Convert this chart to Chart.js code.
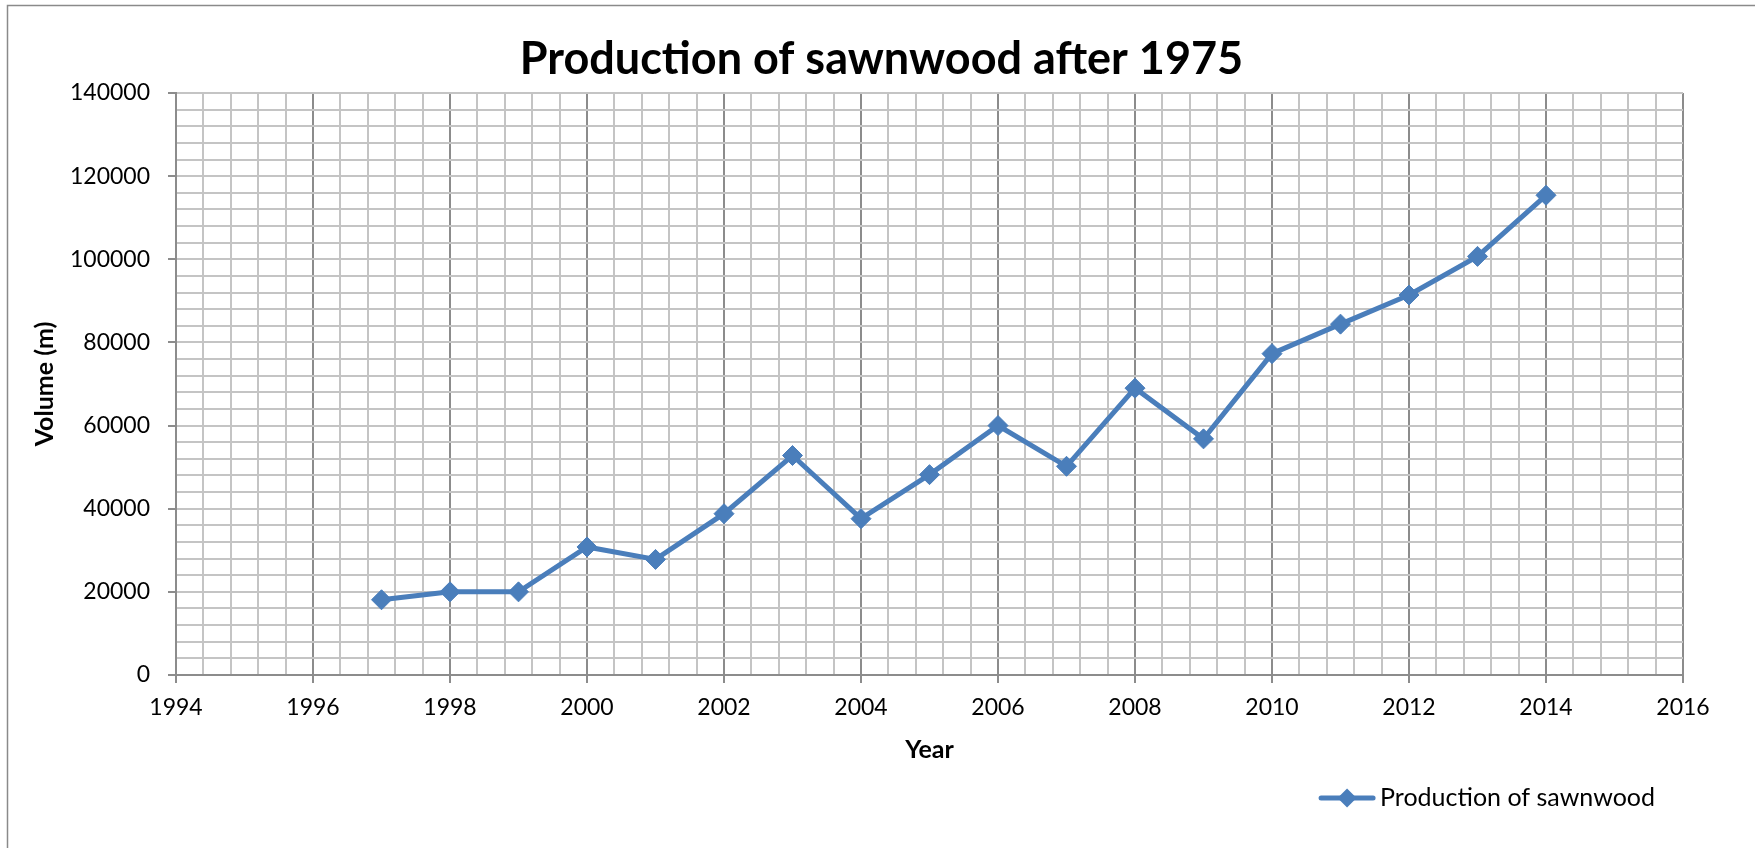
<!DOCTYPE html>
<html>
<head>
<meta charset="utf-8">
<title>Production of sawnwood after 1975</title>
<script src="https://cdn.jsdelivr.net/npm/chart.js@4.4.1/dist/chart.umd.min.js"></script>
<style>
    html, body { margin: 0; padding: 0; background: #ffffff; }
    #wrap { width: 1755px; height: 848px; }
</style>
</head>
<body>
<div id="wrap"><canvas id="chartCanvas" width="1755" height="848"></canvas></div>
<script>
// Sawnwood production per year
const years = [1997, 1998, 1999, 2000, 2001, 2002, 2003, 2004, 2005, 2006, 2007, 2008, 2009, 2010, 2011, 2012, 2013, 2014];
const volumes = [18100, 20000, 20000, 30800, 27800, 38800, 52800, 37600, 48200, 60000, 50200, 69000, 56800, 77300, 84400, 91400, 100700, 115400];

// Major ticks (labelled); each gap is split into minor grid steps
const xTickValues = [1994, 1996, 1998, 2000, 2002, 2004, 2006, 2008, 2010, 2012, 2014, 2016];
const yTickValues = [0, 20000, 40000, 60000, 80000, 100000, 120000, 140000];
const minorSteps = 5;

const seriesLabel = 'Production of sawnwood';
const chartTitle = 'Production of sawnwood after 1975';
const xTitle = 'Year';
const yTitle = 'Volume (m)';

const lineColor = '#4A7EBB';
const fontFamily = 'Lato, "Open Sans", sans-serif';

function withMinorTicks(major, n) {
    const out = [];
    for (let i = 0; i < major.length - 1; i++) {
        const step = (major[i + 1] - major[i]) / n;
        for (let j = 0; j < n; j++) out.push(major[i] + j * step);
    }
    out.push(major[major.length - 1]);
    return out;
}

function isMajor(list, v) {
    return list.some(m => Math.abs(m - v) < 1e-6);
}

// thin frame around the whole chart
const frame = {
    id: 'frame',
    beforeDraw(chart) {
        const ctx = chart.ctx;
        ctx.save();
        ctx.strokeStyle = '#8a8a8a';
        ctx.lineWidth = 1.5;
        ctx.strokeRect(7.5, 5.5, chart.width + 20, chart.height + 20);
        ctx.restore();
    }
};

// legend: line sample with a diamond, then the series name
const lineLegend = {
    id: 'lineLegend',
    afterDraw(chart) {
        const ctx = chart.ctx;
        const ds = chart.data.datasets[0];
        const area = chart.chartArea;
        ctx.save();
        ctx.font = '25px ' + fontFamily;
        const textW = ctx.measureText(ds.label).width;
        const textRight = area.right - 28;
        const textLeft = textRight - textW;
        const y = 798;
        const x1 = textLeft - 59, x2 = textLeft - 7;
        ctx.strokeStyle = ds.borderColor;
        ctx.lineWidth = ds.borderWidth;
        ctx.lineCap = 'round';
        ctx.beginPath();
        ctx.moveTo(x1, y);
        ctx.lineTo(x2, y);
        ctx.stroke();
        const cx = (x1 + x2) / 2, r = 9.5;
        ctx.fillStyle = ds.pointBackgroundColor;
        ctx.beginPath();
        ctx.moveTo(cx, y - r);
        ctx.lineTo(cx + r, y);
        ctx.lineTo(cx, y + r);
        ctx.lineTo(cx - r, y);
        ctx.closePath();
        ctx.fill();
        ctx.fillStyle = '#000000';
        ctx.textBaseline = 'middle';
        ctx.textAlign = 'left';
        ctx.fillText(ds.label, textLeft, y);
        ctx.restore();
    }
};

const ctx = document.getElementById('chartCanvas').getContext('2d');
new Chart(ctx, {
    type: 'line',
    data: {
        datasets: [{
            label: seriesLabel,
            data: years.map((yr, i) => ({ x: yr, y: volumes[i] })),
            borderColor: lineColor,
            backgroundColor: lineColor,
            borderWidth: 5,
            pointStyle: 'rectRot',
            pointRadius: 10,
            pointHoverRadius: 10,
            pointBackgroundColor: lineColor,
            pointBorderColor: lineColor,
            pointBorderWidth: 1,
            tension: 0,
            fill: false
        }]
    },
    options: {
        responsive: false,
        devicePixelRatio: 1,
        animation: false,
        layout: { padding: { left: 8, right: 0, top: 4, bottom: 0 } },
        plugins: {
            legend: { display: false },
            tooltip: { enabled: false },
            title: {
                display: true,
                text: chartTitle,
                color: '#000000',
                font: { family: fontFamily, size: 45, weight: 'bold', lineHeight: 1.2 },
                padding: { top: 28, bottom: 7 }
            }
        },
        scales: {
            x: {
                type: 'linear',
                min: xTickValues[0],
                max: xTickValues[xTickValues.length - 1],
                afterBuildTicks: axis => {
                    axis.ticks = withMinorTicks(xTickValues, minorSteps).map(v => ({ value: v }));
                },
                afterFit: axis => { axis.height = 173; },
                ticks: {
                    autoSkip: false,
                    maxRotation: 0,
                    minRotation: 0,
                    padding: 11,
                    color: '#000000',
                    font: { family: fontFamily, size: 23 },
                    callback: v => isMajor(xTickValues, v) ? String(Math.round(v)) : ''
                },
                grid: {
                    color: c => isMajor(xTickValues, c.tick.value) ? '#8c8c8c' : '#c4c4c4',
                    lineWidth: 2,
                    tickLength: 8,
                    tickColor: c => isMajor(xTickValues, c.tick.value) ? '#8c8c8c' : 'rgba(0,0,0,0)'
                },
                border: { color: '#8c8c8c', width: 2 },
                title: {
                    display: true,
                    text: xTitle,
                    color: '#000000',
                    font: { family: fontFamily, size: 25, weight: 'bold', lineHeight: 1.2 },
                    padding: { top: 0, bottom: 83 }
                }
            },
            y: {
                type: 'linear',
                min: yTickValues[0],
                max: yTickValues[yTickValues.length - 1],
                afterBuildTicks: axis => {
                    axis.ticks = withMinorTicks(yTickValues, minorSteps).map(v => ({ value: v }));
                },
                afterFit: axis => { axis.width = 168; },
                ticks: {
                    autoSkip: false,
                    padding: 18,
                    color: '#000000',
                    font: { family: fontFamily, size: 23 },
                    callback: v => isMajor(yTickValues, v) ? String(Math.round(v)) : ''
                },
                grid: {
                    color: '#c4c4c4',
                    lineWidth: 2,
                    tickLength: 8,
                    tickColor: c => isMajor(yTickValues, c.tick.value) ? '#8c8c8c' : 'rgba(0,0,0,0)'
                },
                border: { color: '#8c8c8c', width: 2 },
                title: {
                    display: true,
                    text: yTitle,
                    color: '#000000',
                    font: { family: fontFamily, size: 25, weight: 'bold', lineHeight: 1.2 },
                    padding: { top: 22, bottom: 0 }
                }
            },
            // empty right-hand margin so the title centres on the whole canvas
            margin: {
                type: 'linear',
                position: 'right',
                display: true,
                afterFit: axis => { axis.width = 72; },
                ticks: { display: false },
                grid: { display: false },
                border: { display: false }
            }
        }
    },
    plugins: [frame, lineLegend]
});
</script>
</body>
</html>
